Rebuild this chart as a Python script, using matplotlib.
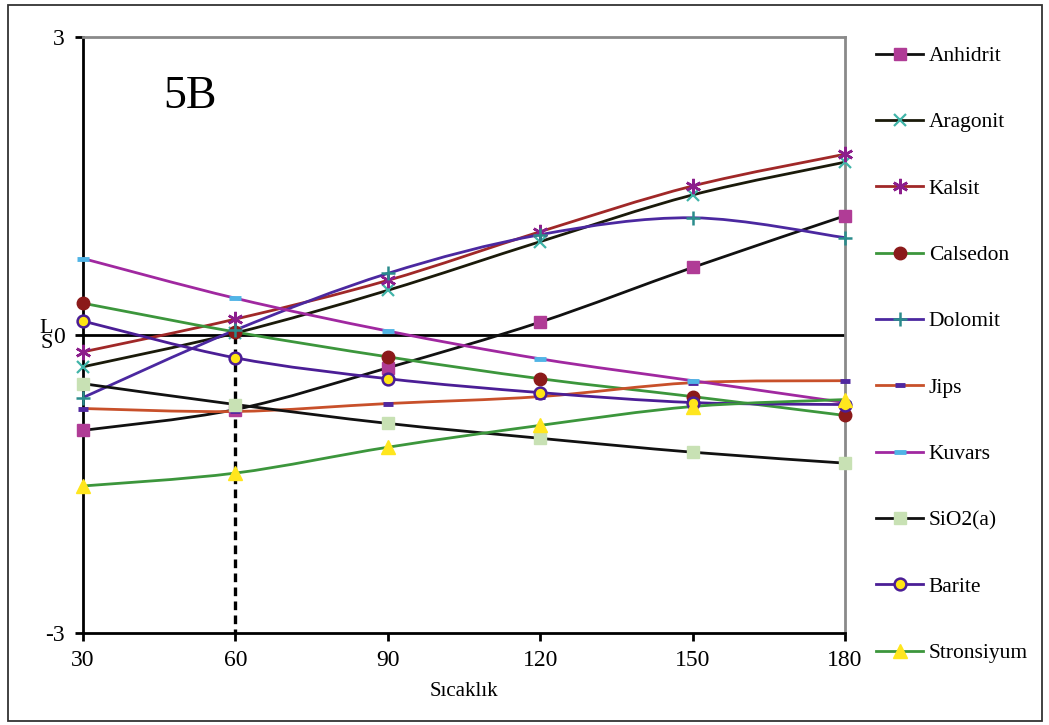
import matplotlib
matplotlib.use("Agg")
import matplotlib.pyplot as plt
import numpy as np
from matplotlib.path import Path
from matplotlib.patches import PathPatch, Rectangle
from matplotlib.lines import Line2D

plt.rcParams['font.family'] = ['Liberation Serif', 'DejaVu Serif']

temps = [30, 60, 90, 120, 150, 180]
x_ticks = [30, 60, 90, 120, 150, 180]
y_ticks = [-3, 0, 3]

anhidrit   = [-0.96, -0.75, -0.33, 0.13, 0.68, 1.20]
aragonit   = [-0.32, 0.02, 0.45, 0.94, 1.41, 1.74]
kalsit     = [-0.17, 0.16, 0.55, 1.04, 1.50, 1.82]
calsedon   = [0.32, 0.03, -0.22, -0.44, -0.62, -0.81]
dolomit    = [-0.63, 0.05, 0.62, 1.01, 1.18, 0.98]
jips       = [-0.74, -0.77, -0.69, -0.62, -0.48, -0.46]
kuvars     = [0.77, 0.37, 0.04, -0.24, -0.46, -0.68]
sio2       = [-0.49, -0.70, -0.89, -1.04, -1.18, -1.29]
barite     = [0.14, -0.23, -0.44, -0.58, -0.68, -0.70]
stronsiyum = [-1.52, -1.39, -1.13, -0.91, -0.72, -0.65]

names = ["Anhidrit", "Aragonit", "Kalsit", "Calsedon", "Dolomit", "Jips",
         "Kuvars", "SiO2(a)", "Barite", "Stronsiyum"]
series = [anhidrit, aragonit, kalsit, calsedon, dolomit, jips,
          kuvars, sio2, barite, stronsiyum]

styles = [
    dict(lc="#111111", marker="s", mfc="#B03C96", mec="#B03C96", ms=9, mew=1),
    dict(lc="#1a1a0a", marker="x", mfc="#40B4A8", mec="#40B4A8", ms=9, mew=1.6),
    dict(lc="#A02828", marker=(6, 2, 0), mfc="#8C1E8C", mec="#8C1E8C", ms=11, mew=1.8),
    dict(lc="#3C963C", marker="o", mfc="#8B1A1A", mec="#8B1A1A", ms=9, mew=1),
    dict(lc="#4B28A0", marker="+", mfc="#2A8C8C", mec="#2A8C8C", ms=10, mew=1.8),
    dict(lc="#C8502A", marker="_", mfc="#5028A0", mec="#5028A0", ms=7, mew=3.5),
    dict(lc="#A028A0", marker="_", mfc="#50B4E6", mec="#50B4E6", ms=9, mew=3.5),
    dict(lc="#111111", marker="s", mfc="#C8E1B4", mec="#C8E1B4", ms=9, mew=1),
    dict(lc="#4B1E96", marker="o", mfc="#FFE614", mec="#4B1E96", ms=8.5, mew=1.8),
    dict(lc="#3C963C", marker="^", mfc="#FFE61E", mec="#FFE61E", ms=10, mew=1),
]


def smooth_path(xs, ys):
    pts = [np.array([a, b], dtype=float) for a, b in zip(xs, ys)]
    n = len(pts)
    verts = [pts[0]]
    codes = [Path.MOVETO]
    for i in range(n - 1):
        p0 = pts[i - 1] if i > 0 else pts[i]
        p1 = pts[i]
        p2 = pts[i + 1]
        p3 = pts[i + 2] if i + 2 < n else pts[i + 1]
        c1 = p1 + (p2 - p0) / 6.0
        c2 = p2 - (p3 - p1) / 6.0
        verts += [c1, c2, p2]
        codes += [Path.CURVE4] * 3
    return Path(verts, codes)


W, H = 1049, 725
fig = plt.figure(figsize=(W / 100, H / 100), dpi=100)
L, R, T, B = 83, 845, 37, 633
ax = fig.add_axes([L / W, 1 - B / H, (R - L) / W, (B - T) / H])

# outer frame
fig.patches.append(Rectangle((8 / W, 4 / H), (1042 - 8) / W, (720 - 4) / H,
                             transform=fig.transFigure, fill=False,
                             edgecolor="#333333", lw=1.3))

ax.set_xlim(30, 180)
ax.set_ylim(-3, 3)

ax.axhline(0, color="black", lw=2, zorder=1)
ax.plot([60, 60], [0, -3], color="black", lw=2.4, dashes=(2.6, 1.6), zorder=1)

handles = []
for i, (name, vals, st) in enumerate(zip(names, series, styles)):
    patch = PathPatch(smooth_path(temps, vals), fill=False, edgecolor=st["lc"],
                      lw=2.0, zorder=2 + i * 0.1, capstyle="round")
    ax.add_patch(patch)
    ax.plot(temps, vals, linestyle="none", marker=st["marker"], ms=st["ms"],
            mfc=st["mfc"], mec=st["mec"], mew=st["mew"], clip_on=False,
            zorder=3 + i * 0.1)
    handles.append(Line2D([], [], color=st["lc"], lw=2.0, marker=st["marker"],
                          ms=st["ms"], mfc=st["mfc"], mec=st["mec"], mew=st["mew"]))

for side in ["left", "bottom"]:
    ax.spines[side].set_color("black")
    ax.spines[side].set_linewidth(2)
for side in ["top", "right"]:
    ax.spines[side].set_color("#8a8a8a")
    ax.spines[side].set_linewidth(2)

ax.set_xticks(x_ticks)
ax.set_yticks(y_ticks)
ax.set_yticklabels(["-3", "0", "3"])
ax.tick_params(axis="both", direction="out", length=6, width=2, labelsize=17,
               colors="black")
ax.tick_params(axis="x", pad=6)
ax.tick_params(axis="y", pad=7)

# y-axis label fragments near zero
fig.text(53 / W, 1 - 336 / H, "L\nS", fontsize=16, ha="right", va="center",
         linespacing=0.75)

ax.set_xlabel("Sıcaklık", fontsize=15, labelpad=8)

ax.text(163 / W, 1 - 108 / H, "5B", transform=fig.transFigure, fontsize=33,
        ha="left", va="baseline")

fig.legend(handles, names, loc="upper left", bbox_to_anchor=(876 / W, 1 - 46 / H),
           frameon=False, prop={"size": 15.5}, handlelength=2.2, handletextpad=0.25,
           labelspacing=2.15, borderpad=0, borderaxespad=0, numpoints=1)

fig.savefig("out.png", dpi=100, facecolor="white")
